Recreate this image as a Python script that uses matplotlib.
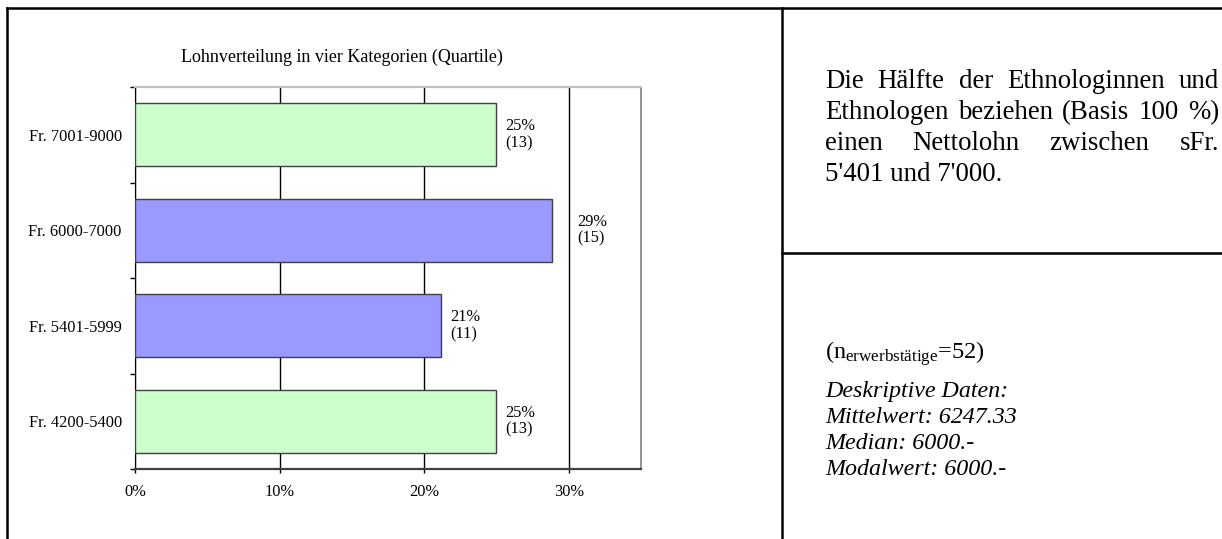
import matplotlib
matplotlib.use("Agg")
import matplotlib.pyplot as plt
from matplotlib.lines import Line2D
from matplotlib.transforms import IdentityTransform

plt.rcParams['font.family'] = ['Liberation Serif', 'DejaVu Serif']
plt.rcParams['mathtext.fontset'] = 'custom'
plt.rcParams['mathtext.rm'] = 'Liberation Serif'
plt.rcParams['mathtext.it'] = 'Liberation Serif:italic'

# Daten
kategorien = ['Fr. 4200-5400', 'Fr. 5401-5999', 'Fr. 6000-7000', 'Fr. 7001-9000']
anzahl = [13, 11, 15, 13]
n_total = 52
farben = ['#CCFFCC', '#9999FF', '#9999FF', '#CCFFCC']
x_ticks = [0, 10, 20, 30]
titel = 'Lohnverteilung in vier Kategorien (Quartile)'

text_oben = ['Die Hälfte der Ethnologinnen und',
             'Ethnologen beziehen (Basis 100 %)',
             'einen Nettolohn zwischen sFr.',
             "5'401 und 7'000."]
text_unten = ['Deskriptive Daten:', 'Mittelwert: 6247.33',
              'Median: 6000.-', 'Modalwert: 6000.-']

W, H = 1222, 539
fig = plt.figure(figsize=(W / 100, H / 100), dpi=100)
pix = IdentityTransform()

# Diagramm
ax = fig.add_axes([135 / W, 1 - 469 / H, 506 / W, 382 / H])
prozent = [a / n_total * 100 for a in anzahl]
ypos = list(range(len(kategorien)))
ax.barh(ypos, prozent, height=0.66, color=farben, edgecolor='#404040', lw=1, zorder=3)
ax.set_xlim(0, 35)
ax.set_ylim(-0.5, len(kategorien) - 0.5)
ax.set_xticks(x_ticks)
ax.set_xticklabels([f'{t}%' for t in x_ticks], fontsize=11.8)
ax.xaxis.grid(True, color='#000000', lw=1, zorder=1)
ax.set_yticks(ypos)
ax.set_yticklabels(kategorien, fontsize=11.8)
ax.set_yticks([y - 0.5 for y in range(len(kategorien) + 1)], minor=True)
ax.tick_params(axis='y', which='major', length=0, pad=9.5)
ax.tick_params(axis='y', which='minor', length=3.6, width=1, color='black')
ax.tick_params(axis='x', length=3, width=1, color='black', pad=8)
ax.spines['top'].set_color('#C0C0C0')
ax.spines['top'].set_linewidth(1.6)
ax.spines['right'].set_color('#808080')
ax.spines['right'].set_linewidth(1.2)
ax.spines['left'].set_color('black')
ax.spines['bottom'].set_color('#404040')
ax.spines['bottom'].set_linewidth(1.6)

for y, p, a in zip(ypos, prozent, anzahl):
    lx = 30 if p > 28 else p   # Beschriftung hinter die 30%-Linie schieben
    ax.annotate(f'{p:.0f}%\n({a})', xy=(lx, y), xytext=(6.5, 0), textcoords='offset points',
                ha='left', va='center', fontsize=11.8, linespacing=1.05)

fig.text(342, H - 57, titel, transform=pix, ha='center', va='center', fontsize=13)

# Rahmen
lw = 1.8
fig.add_artist(Line2D([6.5, W], [H - 8, H - 8], transform=pix, color='black', lw=lw))
fig.add_artist(Line2D([6.5, 6.5], [0, H - 8], transform=pix, color='black', lw=lw))
fig.add_artist(Line2D([782, 782], [0, H - 8], transform=pix, color='black', lw=lw))
fig.add_artist(Line2D([782, W], [H - 253, H - 253], transform=pix, color='black', lw=lw))

# Textblock oben (Blocksatz)
renderer = fig.canvas.get_renderer()


def blocksatz(zeile, x0, x1, y, **kw):
    woerter = zeile.split()
    texte = [fig.text(0, 0, w, transform=pix, va='baseline', **kw) for w in woerter]
    breiten = [t.get_window_extent(renderer).width for t in texte]
    luecke = (x1 - x0 - sum(breiten)) / (len(woerter) - 1)
    x = x0
    for t, b in zip(texte, breiten):
        t.set_position((x, H - y))
        x += b + luecke


for i, zeile in enumerate(text_oben):
    y = 88 + i * 31
    if i < len(text_oben) - 1:
        blocksatz(zeile, 825, 1219, y, fontsize=19.4)
    else:
        fig.text(825, H - y, zeile, transform=pix, va='baseline', fontsize=19.4)

fig.text(825, H - 359, '(n$_{\\mathrm{erwerbstätige}}$=52)', transform=pix,
         va='baseline', fontsize=17.5)
for i, zeile in enumerate(text_unten):
    fig.text(825, H - (397 + i * 26), zeile, transform=pix, va='baseline',
             fontsize=17.3, style='italic')

fig.savefig('out.png', dpi=100)
